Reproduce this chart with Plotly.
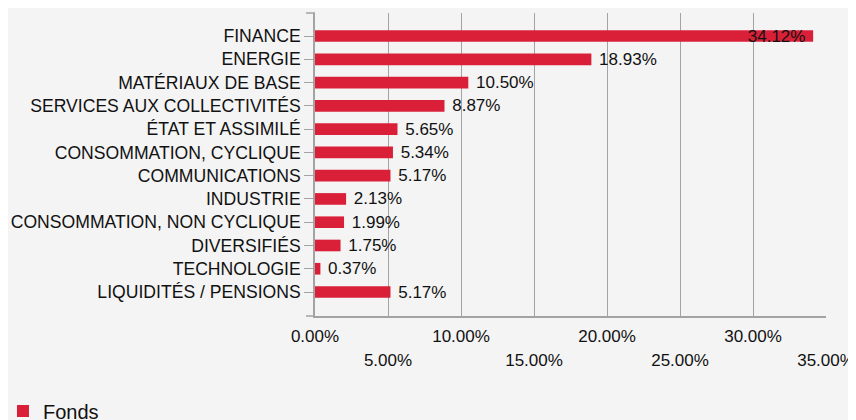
import plotly.graph_objects as go

categories = [
    "FINANCE", "ENERGIE", "MATÉRIAUX DE BASE", "SERVICES AUX COLLECTIVITÉS",
    "ÉTAT ET ASSIMILÉ", "CONSOMMATION, CYCLIQUE", "COMMUNICATIONS", "INDUSTRIE",
    "CONSOMMATION, NON CYCLIQUE", "DIVERSIFIÉS", "TECHNOLOGIE", "LIQUIDITÉS / PENSIONS",
]
fonds = [34.12, 18.93, 10.50, 8.87, 5.65, 5.34, 5.17, 2.13, 1.99, 1.75, 0.37, 5.17]
series_name = "Fonds"
tick_vals_upper = [0, 10, 20, 30]
tick_vals_lower = [5, 15, 25, 35]
tick_vals_all = [0, 5, 10, 15, 20, 25, 30, 35]

FONT = "Arial, 'Liberation Sans', sans-serif"
RED = "#da2038"
GRID = "#a3a3a3"
BG = "#f4f4f4"
TXT = "#111111"

inside = [v > 30 for v in fonds]
text_pos = ["inside" if i else "outside" for i in inside]
text_tpl = ["%{x:.2f}%&nbsp;" if i else "&nbsp;%{x:.2f}%" for i in inside]

fig = go.Figure()
fig.add_trace(go.Bar(
    x=fonds, y=categories, orientation="h", name=series_name,
    marker=dict(color=RED, line=dict(width=0)),
    width=0.5,
    texttemplate=text_tpl,
    textposition=text_pos,
    insidetextanchor="end",
    constraintext="none",
    textfont=dict(family=FONT, size=17, color=TXT),
    insidetextfont=dict(family=FONT, size=17, color=TXT),
    outsidetextfont=dict(family=FONT, size=17, color=TXT),
    cliponaxis=False,
    hoverinfo="x+y",
))
# invisible companion so the second (staggered) tick-label axis is drawn
fig.add_trace(go.Scatter(
    x=fonds, y=categories, xaxis="x2", yaxis="y", mode="markers",
    marker=dict(opacity=0, size=1), showlegend=False, hoverinfo="skip",
))

upper_text = [f"{v:.2f}%" if v in tick_vals_upper else "" for v in tick_vals_all]
lower_text = [f"{v:.2f}%" for v in tick_vals_lower]

fig.update_layout(
    template="none",
    width=856, height=420,
    margin=dict(l=307, r=38, t=5, b=112, autoexpand=False),
    paper_bgcolor=BG, plot_bgcolor=BG,
    font=dict(family=FONT, size=17, color=TXT),
    xaxis=dict(
        range=[0, 35], tickvals=tick_vals_all, ticktext=upper_text,
        showgrid=True, gridcolor=GRID, gridwidth=1,
        zeroline=False, showline=True, linecolor=GRID, linewidth=1.5,
        ticks="", ticklabelstandoff=4, automargin=False,
        tickfont=dict(family=FONT, size=17, color=TXT),
    ),
    xaxis2=dict(
        range=[0, 35], overlaying="x", anchor="y", side="bottom",
        tickvals=tick_vals_lower, ticktext=lower_text,
        showgrid=False, zeroline=False, showline=False, ticks="",
        ticklabelstandoff=32, automargin=False,
        tickfont=dict(family=FONT, size=17, color=TXT),
    ),
    yaxis=dict(
        type="category", categoryorder="array", categoryarray=categories,
        range=[12.03, -0.99], automargin=False,
        showgrid=False, zeroline=False, showline=True, linecolor=GRID, linewidth=1.5,
        ticks="outside", ticklen=9, tickcolor=GRID, tickwidth=1,
        tickfont=dict(family=FONT, size=17.6, color=TXT),
    ),
    showlegend=True,
    legend=dict(
        orientation="h", x=-0.6106, xanchor="left", y=-0.3135, yanchor="middle",
        font=dict(family=FONT, size=20, color=TXT),
        bgcolor="rgba(0,0,0,0)", borderwidth=0,
    ),
    shapes=[
        dict(type="line", xref="paper", yref="paper", x0=-0.0176, x1=0, y0=1, y1=1,
             line=dict(color=GRID, width=1.5)),
        dict(type="line", xref="paper", yref="paper", x0=-0.0176, x1=0, y0=0, y1=0,
             line=dict(color=GRID, width=1.5)),
    ],
)

fig.write_html("out.html")
